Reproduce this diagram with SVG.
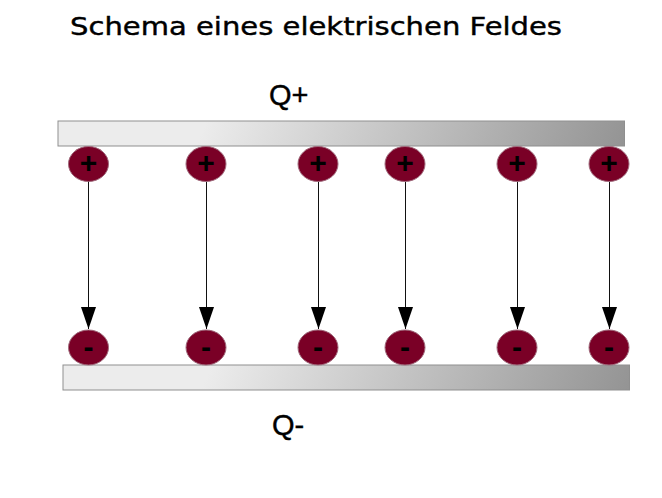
<svg xmlns="http://www.w3.org/2000/svg" width="662" height="498" viewBox="0 0 662 498">
<style>
.plate{fill:url(#g);stroke:#8f8f8f;stroke-width:1}
.dot{fill:#7a0026;stroke:#a06a7c;stroke-width:1}
.sign{font-family:"Liberation Sans",Arial,sans-serif;font-size:30px;font-weight:bold;fill:#000;text-anchor:middle}
.label{font-family:"Liberation Sans",Arial,sans-serif;font-size:29px;fill:#000;stroke:#000;stroke-width:.4}
.title{font-family:"DejaVu Sans",sans-serif;font-size:25px;fill:#000;stroke:#000;stroke-width:.4}
.conn{stroke:#111;stroke-width:1;fill:none;marker-end:url(#a)}
</style>
<defs>
<linearGradient id="g" gradientUnits="userSpaceOnUse" x1="240" y1="40" x2="625" y2="200">
<stop offset="0" stop-color="#ececec"/><stop offset="1" stop-color="#8f8f8f"/>
</linearGradient>
<linearGradient id="g2" gradientUnits="userSpaceOnUse" x1="245" y1="284" x2="630" y2="444">
<stop offset="0" stop-color="#ececec"/><stop offset="1" stop-color="#8f8f8f"/>
</linearGradient>
<marker id="a" markerUnits="userSpaceOnUse" markerWidth="24" markerHeight="16" refX="22" refY="8" orient="auto">
<path d="M0 0.500L22 8L0 15.500Z" fill="#000"/>
</marker>
</defs>
<text id="title" class="title" x="70" y="35" textLength="492" lengthAdjust="spacingAndGlyphs">Schema eines elektrischen Feldes</text>
<g id="plate-top"><rect class="plate" x="58" y="121" width="566.500" height="25"/><text class="label" x="269" y="105">Q+</text></g>
<g id="plate-bottom"><rect class="plate" style="fill:url(#g2)" x="63" y="365" width="566.500" height="25"/><text class="label" x="272" y="435">Q-</text></g>
<g id="connectors">
<path class="conn" d="M88.500 181V329"/>
<path class="conn" d="M206.500 181V329"/>
<path class="conn" d="M318.500 181V329"/>
<path class="conn" d="M405.500 181V329"/>
<path class="conn" d="M517.500 181V329"/>
<path class="conn" d="M609.500 181V329"/>
</g>
<g id="p1"><ellipse class="dot" cx="88.500" cy="164" rx="20" ry="17.500"/><text class="sign" x="88.500" y="173">+</text></g>
<g id="p2"><ellipse class="dot" cx="206" cy="164" rx="20" ry="17.500"/><text class="sign" x="206" y="173">+</text></g>
<g id="p3"><ellipse class="dot" cx="318" cy="164" rx="20" ry="17.500"/><text class="sign" x="318" y="173">+</text></g>
<g id="p4"><ellipse class="dot" cx="405" cy="164" rx="20" ry="17.500"/><text class="sign" x="405" y="173">+</text></g>
<g id="p5"><ellipse class="dot" cx="517" cy="164" rx="20" ry="17.500"/><text class="sign" x="517" y="173">+</text></g>
<g id="p6"><ellipse class="dot" cx="609" cy="164" rx="20" ry="17.500"/><text class="sign" x="609" y="173">+</text></g>
<g id="n1"><ellipse class="dot" cx="88.500" cy="347.500" rx="20" ry="17.500"/><text class="sign" x="88.500" y="357">-</text></g>
<g id="n2"><ellipse class="dot" cx="206" cy="347.500" rx="20" ry="17.500"/><text class="sign" x="206" y="357">-</text></g>
<g id="n3"><ellipse class="dot" cx="318" cy="347.500" rx="20" ry="17.500"/><text class="sign" x="318" y="357">-</text></g>
<g id="n4"><ellipse class="dot" cx="405" cy="347.500" rx="20" ry="17.500"/><text class="sign" x="405" y="357">-</text></g>
<g id="n5"><ellipse class="dot" cx="517" cy="347.500" rx="20" ry="17.500"/><text class="sign" x="517" y="357">-</text></g>
<g id="n6"><ellipse class="dot" cx="609" cy="347.500" rx="20" ry="17.500"/><text class="sign" x="609" y="357">-</text></g>
</svg>
